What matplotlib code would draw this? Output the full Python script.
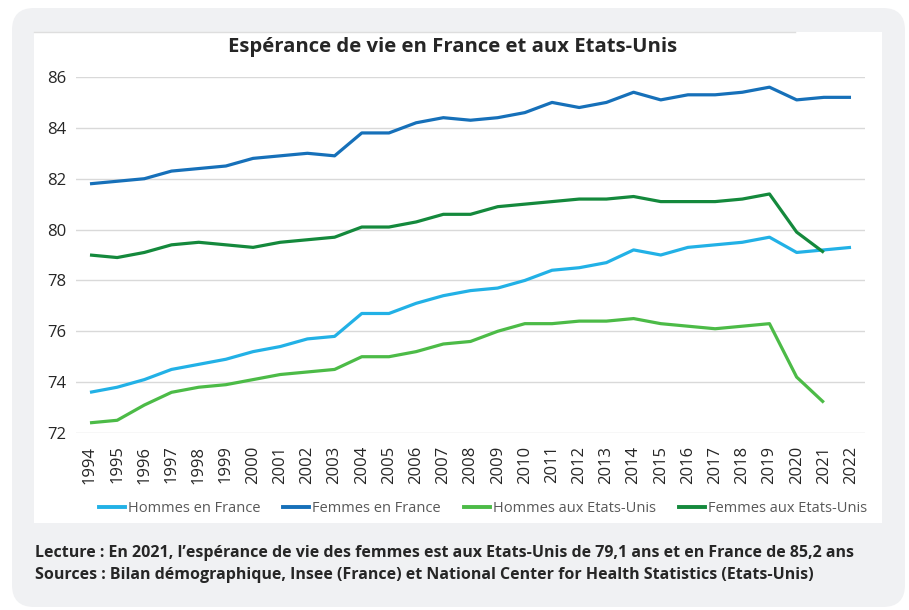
import matplotlib
matplotlib.use("Agg")
import matplotlib.pyplot as plt
from matplotlib.patches import FancyBboxPatch, Rectangle
from matplotlib.lines import Line2D
from matplotlib.transforms import IdentityTransform

plt.rcParams['font.family'] = ['Open Sans', 'DejaVu Sans']

years = list(range(1994, 2023))
hommes_france = [73.6, 73.8, 74.1, 74.5, 74.7, 74.9, 75.2, 75.4, 75.7, 75.8,
                 76.7, 76.7, 77.1, 77.4, 77.6, 77.7, 78.0, 78.4, 78.5, 78.7,
                 79.2, 79.0, 79.3, 79.4, 79.5, 79.7, 79.1, 79.2, 79.3]
femmes_france = [81.8, 81.9, 82.0, 82.3, 82.4, 82.5, 82.8, 82.9, 83.0, 82.9,
                 83.8, 83.8, 84.2, 84.4, 84.3, 84.4, 84.6, 85.0, 84.8, 85.0,
                 85.4, 85.1, 85.3, 85.3, 85.4, 85.6, 85.1, 85.2, 85.2]
hommes_us = [72.4, 72.5, 73.1, 73.6, 73.8, 73.9, 74.1, 74.3, 74.4, 74.5,
             75.0, 75.0, 75.2, 75.5, 75.6, 76.0, 76.3, 76.3, 76.4, 76.4,
             76.5, 76.3, 76.2, 76.1, 76.2, 76.3, 74.2, 73.2]
femmes_us = [79.0, 78.9, 79.1, 79.4, 79.5, 79.4, 79.3, 79.5, 79.6, 79.7,
             80.1, 80.1, 80.3, 80.6, 80.6, 80.9, 81.0, 81.1, 81.2, 81.2,
             81.3, 81.1, 81.1, 81.1, 81.2, 81.4, 79.9, 79.1]
series_labels = ["Hommes en France", "Femmes en France",
                 "Hommes aux Etats-Unis", "Femmes aux Etats-Unis"]
y_ticks = [72, 74, 76, 78, 80, 82, 84, 86]
title = "Espérance de vie en France et aux Etats-Unis"
note1 = "Lecture : En 2021, l\u2019espérance de vie des femmes est aux Etats-Unis de 79,1 ans et en France de 85,2 ans"
note2 = "Sources : Bilan démographique, Insee (France) et National Center for Health Statistics (Etats-Unis)"

colors = ["#22b1e6", "#1670b9", "#4cbb47", "#14893c"]

W, H = 909, 610
fig = plt.figure(figsize=(W / 100, H / 100), dpi=100, facecolor="white")

# outer rounded grey card
card = FancyBboxPatch((12, 3), 893, 599, boxstyle="round,pad=0,rounding_size=22",
                      transform=IdentityTransform(), facecolor="#f0f1f3",
                      edgecolor="none", zorder=-3)
fig.patches.append(card)
# white chart panel
panel = Rectangle((34, 87), 848, 491, transform=IdentityTransform(),
                  facecolor="white", edgecolor="none", zorder=-2)
fig.patches.append(panel)
fig.lines.append(Line2D([34, 795], [578, 578], transform=IdentityTransform(),
                        color="#dedede", lw=1, zorder=-1))

ax = fig.add_axes([76.4 / W, (H - 433) / H, (864.6 - 76.4) / W, 356 / H])
ax.set_facecolor("none")
ax.set_zorder(2)

xs = list(range(len(years)))
data = [hommes_france, femmes_france, hommes_us, femmes_us]
for vals, c, lab in zip(data, colors, series_labels):
    ax.plot(xs[:len(vals)], vals, color=c, lw=2.3, label=lab,
            solid_joinstyle="round", solid_capstyle="butt", zorder=3)

ax.set_xlim(-0.5, len(years) - 0.5)
ax.set_ylim(72, 86)
ax.set_yticks(y_ticks)
ax.set_yticklabels([str(v) for v in y_ticks])
ax.set_xticks(xs)
ax.set_xticklabels([str(y) for y in years], rotation=90)
ax.tick_params(axis="x", length=0, pad=9, labelsize=12, labelcolor="#262626")
ax.tick_params(axis="y", length=0, pad=7, labelsize=12, labelcolor="#262626")
for s in ax.spines.values():
    s.set_visible(False)
ax.grid(axis="y", color="#d9d9d9", lw=1)
ax.set_axisbelow(True)

fig.text(453 / W, (H - 47) / H, title, ha="center", va="center",
         fontsize=14.6, fontweight="bold", color="#262626")

handles = [Line2D([], [], color=c, lw=2.8) for c in colors]
leg = fig.legend(handles, series_labels, loc="center left", ncol=4,
                 bbox_to_anchor=(99 / W, (H - 509) / H), frameon=False,
                 fontsize=10.5, handlelength=1.78, handletextpad=0.2,
                 columnspacing=1.58, borderaxespad=0, borderpad=0)
for t in leg.get_texts():
    t.set_color("#595959")

fig.text(35 / W, (H - 553) / H, note1, ha="left", va="center",
         fontsize=11.5, fontweight="bold", color="#262626")
fig.text(35 / W, (H - 575) / H, note2, ha="left", va="center",
         fontsize=11.5, fontweight="bold", color="#262626")

fig.savefig("out.png", dpi=100, facecolor="white")
